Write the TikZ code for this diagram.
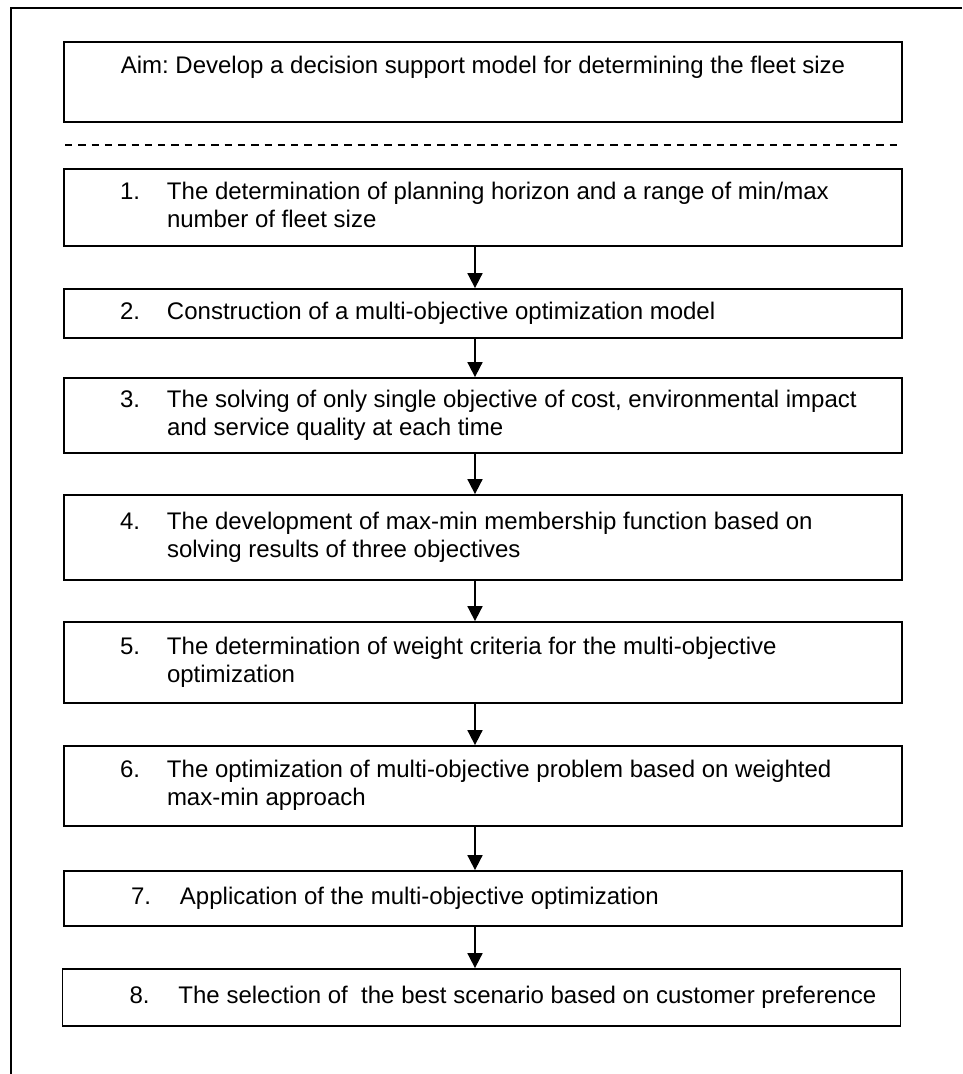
\documentclass[tikz,border=0pt]{standalone}
\usepackage{fontspec}
\setmainfont{Liberation Sans}
\usetikzlibrary{arrows.meta}
\frenchspacing
\newcommand{\stepitem}[4]{\hbox to 838pt{\hspace*{#1}\makebox[#2][l]{#3}\parbox[t]{705pt}{\raggedright\strut #4\strut}\hfil}}
\begin{document}
\begin{tikzpicture}[x=1pt,y=-1pt,
  stepbox/.style={draw, line width=1.8pt, rectangle, inner sep=0pt,
    minimum width=838pt, font=\fontsize{24pt}{28pt}\selectfont},
  arr/.style={line width=1.8pt, -{Triangle[width=15pt,length=15pt]}},
  framelines/.style={line width=1.8pt},
  sepline/.style={line width=1.3pt, dash pattern=on 7.3pt off 6pt}]
\useasboundingbox (0,0) rectangle (962,1074);
% outer frame (top and left only)
\coordinate (fbl) at (11,1074);
\coordinate (ftl) at (11,8);
\coordinate (ftr) at (962,8);
\draw[framelines] (fbl) -- (ftl) -- (ftr);
% aim box
\node[stepbox, minimum height=80pt] (aim) at (483,82)
  {\parbox{838pt}{\centering\strut Aim: Develop a decision support model for determining the fleet size\\\strut}};
% dashed separator
\coordinate (dl) at (65,145);
\coordinate (dr) at (900,145);
\draw[sepline] (dl) -- (dr);
% steps
\node[stepbox, minimum height=77pt] (b1) at (483,207.5)
  {\stepitem{56pt}{47pt}{1.}{The determination of planning horizon and a range of min/max\\number of fleet size}};
\node[stepbox, minimum height=49pt] (b2) at (483,313.5)
  {\stepitem{56pt}{47pt}{2.}{Construction of a multi-objective optimization model}};
\node[stepbox, minimum height=75pt] (b3) at (483,415.5)
  {\stepitem{56pt}{47pt}{3.}{The solving of only single objective of cost, environmental impact\\and service quality at each time}};
\node[stepbox, minimum height=85pt] (b4) at (483,537.5)
  {\stepitem{56pt}{47pt}{4.}{The development of max-min membership function based on\\solving results of three objectives}};
\node[stepbox, minimum height=81pt] (b5) at (483,662.5)
  {\stepitem{56pt}{47pt}{5.}{The determination of weight criteria for the multi-objective\\optimization}};
\node[stepbox, minimum height=80pt] (b6) at (483,786)
  {\stepitem{56pt}{47pt}{6.}{The optimization of multi-objective problem based on weighted\\max-min approach}};
\node[stepbox, minimum height=55pt] (b7) at (483,898.5)
  {\stepitem{67pt}{49pt}{7.}{Application of the multi-objective optimization}};
\node[stepbox, minimum height=57pt] (b8) at (481.5,997.5)
  {\raisebox{3pt}{\stepitem{67pt}{49pt}{8.}{The selection of~ the best scenario based on customer preference}}};
% arrows
\coordinate (ax) at (475,0);
\draw[arr] (b1.south -| ax) -- (b2.north -| ax);
\draw[arr] (b2.south -| ax) -- (b3.north -| ax);
\draw[arr] (b3.south -| ax) -- (b4.north -| ax);
\draw[arr] (b4.south -| ax) -- (b5.north -| ax);
\draw[arr] (b5.south -| ax) -- (b6.north -| ax);
\draw[arr] (b6.south -| ax) -- (b7.north -| ax);
\draw[arr] (b7.south -| ax) -- (b8.north -| ax);
\end{tikzpicture}
\end{document}
